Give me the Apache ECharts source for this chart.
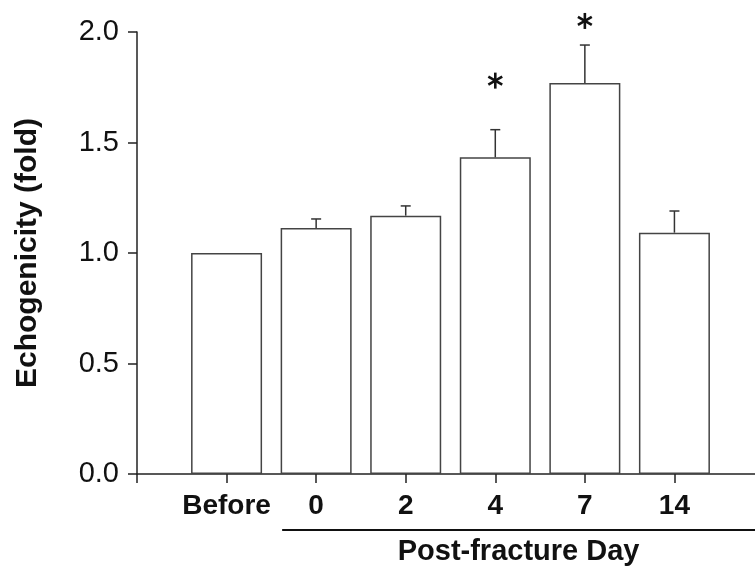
<!DOCTYPE html>
<html>
<head>
<meta charset="utf-8">
<script src="https://cdn.jsdelivr.net/npm/echarts@6/dist/echarts.min.js"></script>
<style>
html, body { margin: 0; padding: 0; background: #fff; }
#chart1 { width: 755px; height: 572px; }
</style>
</head>
<body>
<div id="chart1"></div>
<script>
// categories (blank slots keep the axis running past the last bar)
var categoryList = ['', 'Before', '0', '2', '4', '7', '14', ''];
var meanList = [null, 1.0, 1.113, 1.169, 1.433, 1.769, 1.092, null];
var errList = [null, 0, 0.041, 0.044, 0.125, 0.172, 0.098, null];
var starList = [null, null, null, null, 1.78, 2.05, null, null];
var yTickList = [0, 0.5, 1.0, 1.5, 2.0];
var groupLabel = 'Post-fracture Day';

var fontName = '"Liberation Sans", Arial, sans-serif';
var lineColor = '#222';

var errData = [];
var starData = [];
for (var i = 0; i < categoryList.length; i++) {
	if (meanList[i] != null && errList[i]) {
		errData.push([i, meanList[i], errList[i]]);
	}
	if (starList[i] != null) {
		starData.push([i, starList[i]]);
	}
}

var chart = echarts.init(document.getElementById('chart1'));

var option = {
	animation: false,
	backgroundColor: '#fff',
	grid: {
		left: 137,
		right: -9,
		top: 32,
		bottom: 98,
		containLabel: false,
		outerBoundsMode: 'none'
	},
	xAxis: {
		type: 'category',
		data: categoryList,
		boundaryGap: false,
		axisLine: { lineStyle: { color: lineColor, width: 1.5 } },
		axisTick: { interval: 0, length: 9, lineStyle: { color: lineColor, width: 1.5 } },
		axisLabel: {
			interval: 0,
			margin: 18,
			color: '#111',
			fontSize: 28,
			fontWeight: 'bold',
			fontFamily: fontName
		},
		splitLine: { show: false }
	},
	yAxis: {
		type: 'value',
		min: yTickList[0],
		max: yTickList[yTickList.length - 1],
		interval: 0.5,
		name: 'Echogenicity (fold)',
		nameLocation: 'middle',
		nameGap: 94,
		nameTextStyle: {
			color: '#111',
			fontSize: 30,
			fontWeight: 'bold',
			fontFamily: fontName
		},
		axisLine: { show: true, lineStyle: { color: lineColor, width: 1.5 } },
		axisTick: { show: true, length: 9, lineStyle: { color: lineColor, width: 1.5 } },
		axisLabel: {
			margin: 18,
			color: '#111',
			fontSize: 29,
			fontFamily: fontName,
			formatter: function(v) { return v.toFixed(1); }
		},
		splitLine: { show: false }
	},
	series: [{
		type: 'bar',
		data: meanList,
		barWidth: 71,
		itemStyle: {
			color: '#fff',
			borderColor: '#444',
			borderWidth: 1.5
		}
	}, {
		type: 'custom',
		data: errData,
		z: 3,
		renderItem: function(params, api) {
			var x = api.value(0);
			var m = api.value(1);
			var e = api.value(2);
			var p0 = api.coord([x, m]);
			var p1 = api.coord([x, m + e]);
			var cap = 5;
			var st = { stroke: '#333', lineWidth: 1.5 };
			return {
				type: 'group',
				children: [{
					type: 'line',
					shape: { x1: p0[0], y1: p0[1], x2: p1[0], y2: p1[1] },
					style: st
				}, {
					type: 'line',
					shape: { x1: p1[0] - cap, y1: p1[1], x2: p1[0] + cap, y2: p1[1] },
					style: st
				}]
			};
		}
	}, {
		type: 'custom',
		data: starData,
		clip: false,
		z: 3,
		renderItem: function(params, api) {
			var p = api.coord([api.value(0), api.value(1)]);
			var r = 8;
			var st = { stroke: '#111', lineWidth: 2.6 };
			var kids = [];
			for (var k = 0; k < 3; k++) {
				var a = Math.PI / 2 + k * Math.PI / 3;
				kids.push({
					type: 'line',
					shape: {
						x1: p[0] - r * Math.cos(a), y1: p[1] - r * Math.sin(a),
						x2: p[0] + r * Math.cos(a), y2: p[1] + r * Math.sin(a)
					},
					style: st
				});
			}
			return { type: 'group', children: kids };
		}
	}]
};

chart.setOption(option);

// group underline and label below the post-fracture days
var firstDay = chart.convertToPixel({ xAxisIndex: 0 }, '0');
var baseY = chart.convertToPixel({ yAxisIndex: 0 }, 0);
var lineX0 = firstDay - 34;
var lineX1 = chart.getWidth();
chart.setOption({
	graphic: [{
		type: 'line',
		shape: { x1: lineX0, y1: baseY + 56, x2: lineX1, y2: baseY + 56 },
		style: { stroke: '#111', lineWidth: 2 }
	}, {
		type: 'text',
		x: (lineX0 + lineX1) / 2,
		y: baseY + 78,
		style: {
			text: groupLabel,
			align: 'center',
			verticalAlign: 'middle',
			fill: '#111',
			fontSize: 29,
			fontWeight: 'bold',
			fontFamily: fontName
		}
	}]
});
</script>
</body>
</html>
